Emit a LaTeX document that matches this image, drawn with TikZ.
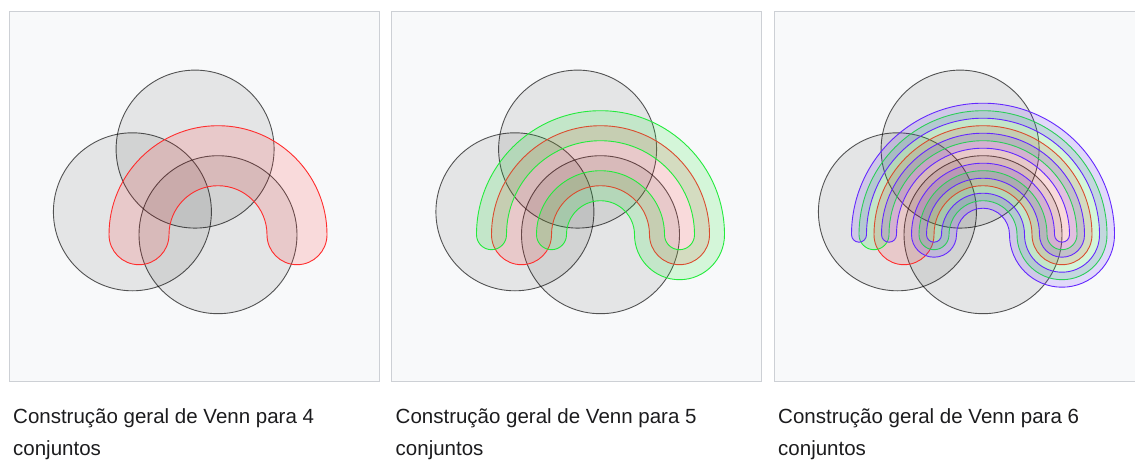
\documentclass[tikz,border=0pt]{standalone}
\usepackage{fontspec}
\setmainfont{Liberation Sans}
\definecolor{framegray}{RGB}{205,208,213}
\definecolor{panelbg}{RGB}{248,249,250}
\definecolor{captext}{RGB}{28,28,30}
\definecolor{setred}{RGB}{255,45,45}
\definecolor{setgreen}{RGB}{35,235,60}
\definecolor{setblue}{RGB}{100,40,255}
\newcommand{\setfour}{(-109,0) arc[start angle=180,end angle=0,radius=109]
  arc[start angle=0,end angle=-180,radius=30]
  arc[start angle=0,end angle=180,radius=49]
  arc[start angle=0,end angle=-180,radius=30] -- cycle}
\newcommand{\setfive}{(-124,0) arc[start angle=180,end angle=0,radius=124]
  arc[start angle=0,end angle=-180,radius=45]
  arc[start angle=0,end angle=180,radius=34]
  arc[start angle=0,end angle=-180,radius=15]
  arc[start angle=180,end angle=0,radius=64]
  arc[start angle=180,end angle=360,radius=15]
  arc[start angle=0,end angle=180,radius=94]
  arc[start angle=0,end angle=-180,radius=15] -- cycle}
\newcommand{\setsix}{(-131.5,0) arc[start angle=180,end angle=0,radius=131.5]
  arc[start angle=0,end angle=-180,radius=52.5]
  arc[start angle=0,end angle=180,radius=26.5]
  arc[start angle=0,end angle=-180,radius=22.5]
  arc[start angle=180,end angle=0,radius=71.5]
  arc[start angle=180,end angle=360,radius=7.5]
  arc[start angle=0,end angle=180,radius=86.5]
  arc[start angle=0,end angle=-180,radius=7.5]
  arc[start angle=180,end angle=0,radius=101.5]
  arc[start angle=0,end angle=-180,radius=22.5]
  arc[start angle=0,end angle=180,radius=56.5]
  arc[start angle=180,end angle=360,radius=7.5]
  arc[start angle=180,end angle=0,radius=41.5]
  arc[start angle=180,end angle=360,radius=37.5]
  arc[start angle=0,end angle=180,radius=116.5]
  arc[start angle=0,end angle=-180,radius=7.5] -- cycle}
\newcommand{\threecircles}{%
  \path[circ] (0,0) circle[radius=79];
  \path[circ] (-22.9,85.6) circle[radius=79];
  \path[circ] (-85.6,22.9) circle[radius=79];}
\begin{document}
\begin{tikzpicture}[x=1pt,y=1pt,
  panel/.style={draw=framegray, fill=panelbg, line width=0.9pt},
  circ/.style={fill=black, fill opacity=0.08, draw=black, draw opacity=0.65, line width=0.9pt},
  redset/.style={draw=setred, fill=setred, fill opacity=0.15, line width=0.9pt},
  greenset/.style={draw=setgreen, fill=setgreen, fill opacity=0.17, line width=0.9pt},
  blueset/.style={draw=setblue, fill=setblue, fill opacity=0.15, line width=0.9pt},
  caption/.style={anchor=base west, inner sep=0pt, text=captext, align=left,
    font=\fontsize{20.5}{31}\selectfont}]
\useasboundingbox (0,0) rectangle (1135,-460);
\fill[white] (0,0) rectangle (1135,-460);
\clip (0,0) rectangle (1135,-460);
% panel 1
\begin{scope}[xshift=0pt]
  \path[panel] (9,-11) rectangle (379,-381);
  \begin{scope}[shift={(218,-234.7)}]
    \threecircles
    \path[redset] \setfour;
  \end{scope}
  \node[caption] (cap4a) at (13,-423) {Construção geral de Venn para 4};
  \node[caption] (cap4b) at (13,-455) {conjuntos};
\end{scope}
% panel 2
\begin{scope}[xshift=382.5pt]
  \path[panel] (9,-11) rectangle (379,-381);
  \begin{scope}[shift={(218,-234.7)}]
    \threecircles
    \path[redset] \setfour;
    \path[greenset] \setfive;
  \end{scope}
  \node[caption] (cap5a) at (13,-423) {Construção geral de Venn para 5};
  \node[caption] (cap5b) at (13,-455) {conjuntos};
\end{scope}
% panel 3
\begin{scope}[xshift=765pt]
  \path[panel] (9,-11) rectangle (379,-381);
  \begin{scope}[shift={(218,-234.7)}]
    \threecircles
    \path[redset] \setfour;
    \path[greenset] \setfive;
    \path[blueset] \setsix;
  \end{scope}
  \node[caption] (cap6a) at (13,-423) {Construção geral de Venn para 6};
  \node[caption] (cap6b) at (13,-455) {conjuntos};
\end{scope}
\end{tikzpicture}
\end{document}
